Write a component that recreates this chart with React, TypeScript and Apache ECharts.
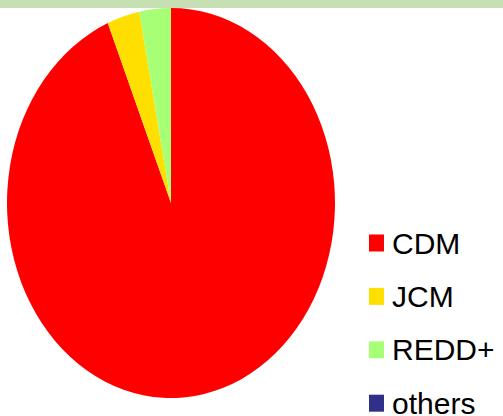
import React, { useEffect, useRef } from "react";
import * as echarts from "echarts";

const categories = ["CDM", "JCM", "REDD+", "others"];
const values = [93.7, 3.2, 3.1, 0];
const colors = ["#ff0000", "#ffdf00", "#a6ff74", "#30308a"];

const CX = 171;
const CY = 203;
const RX = 164;
const RY = 195;

export default function App() {
  const ref = useRef<HTMLDivElement>(null);
  useEffect(() => {
    if (!ref.current) return;
    const chart = echarts.init(ref.current, null, { renderer: "svg" });
    const total = values.reduce((a, b) => a + b, 0);
    const starts: number[] = [];
    let acc = 0;
    values.forEach((v) => {
      starts.push(acc);
      acc += v;
    });
    const series = categories.map((name, i) => ({
      type: "custom",
      name,
      coordinateSystem: "none",
      itemStyle: { color: colors[i] },
      data: [values[i]],
      renderItem: (params: any, api: any) => {
        const v = api.value(0);
        const a0 = -Math.PI / 2 + (starts[i] / total) * Math.PI * 2;
        const a1 = -Math.PI / 2 + ((starts[i] + v) / total) * Math.PI * 2;
        return {
          type: "sector",
          x: CX,
          y: CY,
          scaleX: 1,
          scaleY: RY / RX,
          shape: { cx: 0, cy: 0, r: RX, r0: 0, startAngle: a0, endAngle: a1, clockwise: true },
          style: { fill: colors[i], stroke: "none" },
        };
      },
    }));
    chart.setOption({
      animation: false,
      backgroundColor: "#ffffff",
      graphic: [
        {
          type: "rect",
          left: 0,
          top: 0,
          shape: { width: 503, height: 8 },
          style: { fill: "#c6e0b4" },
          z: 10,
        },
      ],
      legend: {
        orient: "vertical",
        left: 369,
        top: 228,
        height: 240,
        padding: 0,
        icon: "rect",
        itemWidth: 15,
        itemHeight: 17,
        itemGap: 23.4,
        selectedMode: false,
        data: categories.map((name, i) => ({ name, itemStyle: { color: colors[i] } })),
        textStyle: {
          fontFamily: "Liberation Sans, Arial, sans-serif",
          fontSize: 30,
          color: "#000000",
          padding: [0, 0, 0, 3],
        },
      },
      series,
    });
    return () => chart.dispose();
  }, []);
  return (
    <div
      ref={ref}
      style={{ position: "fixed", left: 0, top: 0, width: 503, height: 416 }}
    />
  );
}
